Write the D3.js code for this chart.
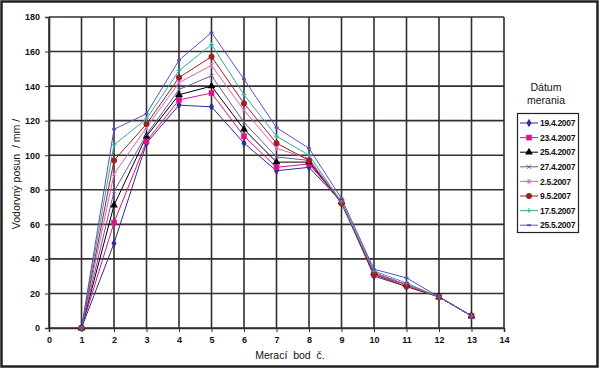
<!DOCTYPE html>
<html>
<head>
<meta charset="utf-8">
<script src="https://cdn.jsdelivr.net/npm/d3@7"></script>
<style>
  body { margin: 0; background: #fff; }
  text { font-family: Arial, "Liberation Sans", sans-serif; white-space: pre; }
</style>
</head>
<body>
<div id="chart"></div>
<script>
// measuring points
var points = [1, 2, 3, 4, 5, 6, 7, 8, 9, 10, 11, 12, 13];

var dates = ["19.4.2007", "23.4.2007", "25.4.2007", "27.4.2007", "2.5.2007", "9.5.2007", "17.5.2007", "25.5.2007"];

// horizontal displacement per date, mm
var s19_4 = [0, 49, 107, 129, 128, 107, 91, 93, 73, 30, 24, 18, 7];
var s23_4 = [0, 61, 108, 132, 136, 111, 93, 95, 73, 31, 25, 18, 7];
var s25_4 = [0, 71, 111, 135, 140, 115, 96, 96, 73, 32, 25, 18, 7];
var s27_4 = [0, 79, 112, 138, 146, 119, 99, 97, 73, 32, 25, 18, 7];
var s2_5 = [0, 89, 116, 142, 152, 126, 104, 98, 73, 32, 25, 18, 7];
var s9_5 = [0, 97, 118, 145, 157, 130, 107, 97, 72, 31, 24, 18, 7];
var s17_5 = [0, 106, 121, 149, 164, 135, 111, 100, 73, 33, 26, 18, 7];
var s25_5 = [0, 115, 124, 155, 171, 144, 116, 104, 75, 34, 29, 18, 7];

var seriesValues = [s19_4, s23_4, s25_4, s27_4, s2_5, s9_5, s17_5, s25_5];
var colors = ["#2e2e96", "#e0108c", "#000000", "#6a5aa0", "#d860c0", "#a02020", "#30a8a0", "#5a50c8"];
var markers = ["diamond", "square", "triangle", "cross", "star", "circle", "plus", "dash"];

var xTicks = d3.range(0, 15);
var yTicks = d3.range(0, 181, 20);

var W = 600, H = 370;
var margin = { left: 49, right: 96, top: 17, bottom: 42 };

var svg = d3.select("#chart").append("svg")
  .attr("width", W).attr("height", H);

svg.append("rect")
  .attr("x", 1.5).attr("y", 1.5)
  .attr("width", W - 4).attr("height", H - 5)
  .attr("fill", "#fff").attr("stroke", "#222").attr("stroke-width", 2.5);

var x = d3.scaleLinear().domain([0, 14]).range([margin.left, W - margin.right]);
var y = d3.scaleLinear().domain([0, 180]).range([H - margin.bottom, margin.top]);

// grid
var grid = svg.append("g");
grid.selectAll("line.v").data(xTicks).enter().append("line")
  .attr("x1", d => x(d)).attr("x2", d => x(d))
  .attr("y1", y(0)).attr("y2", y(180))
  .attr("stroke", "#342e2e").attr("stroke-width", 1.6);
grid.selectAll("line.h").data(yTicks).enter().append("line")
  .attr("x1", x(0)).attr("x2", x(14))
  .attr("y1", d => y(d)).attr("y2", d => y(d))
  .attr("stroke", "#342e2e").attr("stroke-width", 1.6);

// axes
var xAxis = svg.append("g")
  .attr("transform", "translate(0," + y(0) + ")")
  .call(d3.axisBottom(x).tickValues(xTicks).tickSize(4).tickPadding(5));
var yAxis = svg.append("g")
  .attr("transform", "translate(" + x(0) + ",0)")
  .call(d3.axisLeft(y).tickValues(yTicks).tickSize(4).tickPadding(5));
[xAxis, yAxis].forEach(function(a) {
  a.select(".domain").attr("stroke", "#342e2e").attr("stroke-width", 1.6);
  a.selectAll(".tick line").attr("stroke", "#342e2e");
  a.selectAll("text").attr("font-size", 9).attr("font-weight", "bold").attr("fill", "#111")
    .attr("font-family", "Arial, 'Liberation Sans', sans-serif");
});

// axis titles
svg.append("text")
  .attr("x", 290).attr("y", 359)
  .attr("text-anchor", "middle").attr("font-size", 10.5).attr("fill", "#111")
  .text("Merací  bod  č.");
svg.append("text")
  .attr("transform", "translate(20," + 174 + ") rotate(-90)")
  .attr("text-anchor", "middle").attr("font-size", 10.5).attr("fill", "#111")
  .text("Vodorvný posun  / mm /");

function drawMarker(g, type, cx, cy, color) {
  if (type === "diamond") {
    g.append("path").attr("d", d3.symbol(d3.symbolDiamond, 22)()).attr("transform", "translate(" + cx + "," + cy + ")").attr("fill", color);
  } else if (type === "square") {
    g.append("rect").attr("x", cx - 2.8).attr("y", cy - 2.8).attr("width", 5.6).attr("height", 5.6).attr("fill", color);
  } else if (type === "triangle") {
    g.append("path").attr("d", d3.symbol(d3.symbolTriangle, 26)()).attr("transform", "translate(" + cx + "," + cy + ")").attr("fill", color);
  } else if (type === "cross") {
    g.append("path").attr("d", "M" + (cx - 2) + "," + (cy - 2) + "L" + (cx + 2) + "," + (cy + 2) + "M" + (cx - 2) + "," + (cy + 2) + "L" + (cx + 2) + "," + (cy - 2))
      .attr("stroke", color).attr("stroke-width", 1);
  } else if (type === "star") {
    g.append("path").attr("d", "M" + (cx - 2) + "," + (cy - 2) + "L" + (cx + 2) + "," + (cy + 2) + "M" + (cx - 2) + "," + (cy + 2) + "L" + (cx + 2) + "," + (cy - 2) + "M" + cx + "," + (cy - 2.5) + "L" + cx + "," + (cy + 2.5))
      .attr("stroke", color).attr("stroke-width", 1);
  } else if (type === "circle") {
    g.append("circle").attr("cx", cx).attr("cy", cy).attr("r", 3).attr("fill", color);
  } else if (type === "plus") {
    g.append("path").attr("d", "M" + (cx - 2.5) + "," + cy + "L" + (cx + 2.5) + "," + cy + "M" + cx + "," + (cy - 2.5) + "L" + cx + "," + (cy + 2.5))
      .attr("stroke", color).attr("stroke-width", 1);
  } else if (type === "dash") {
    g.append("rect").attr("x", cx - 2).attr("y", cy - 1).attr("width", 4).attr("height", 2).attr("fill", color);
  }
}

var line = d3.line().x((d, i) => x(points[i])).y(d => y(d));
var plot = svg.append("g");
seriesValues.forEach(function(vals, si) {
  plot.append("path").datum(vals)
    .attr("d", line).attr("fill", "none")
    .attr("stroke", colors[si]).attr("stroke-width", 1);
});
seriesValues.forEach(function(vals, si) {
  var g = plot.append("g");
  vals.forEach(function(v, i) { drawMarker(g, markers[si], x(points[i]), y(v), colors[si]); });
});

// legend
svg.append("text").attr("x", 546).attr("y", 91).attr("text-anchor", "middle")
  .attr("font-size", 10.5).attr("fill", "#111").text("Dátum");
svg.append("text").attr("x", 546).attr("y", 104).attr("text-anchor", "middle")
  .attr("font-size", 10.5).attr("fill", "#111").text("merania");
svg.append("rect").attr("x", 517.5).attr("y", 113.5).attr("width", 61).attr("height", 119)
  .attr("fill", "#fff").attr("stroke", "#222").attr("stroke-width", 1.2);
var leg = svg.append("g");
dates.forEach(function(d, i) {
  var ly = 123 + i * 14.6;
  leg.append("line").attr("x1", 520).attr("x2", 538).attr("y1", ly).attr("y2", ly)
    .attr("stroke", colors[i]).attr("stroke-width", 1);
  drawMarker(leg, markers[i], 529, ly, colors[i]);
  leg.append("text").attr("x", 540).attr("y", ly + 3.2)
    .attr("font-size", 8.5).attr("font-weight", "bold").attr("fill", "#111")
    .attr("letter-spacing", -0.3)
    .text(d);
});
</script>
</body>
</html>
